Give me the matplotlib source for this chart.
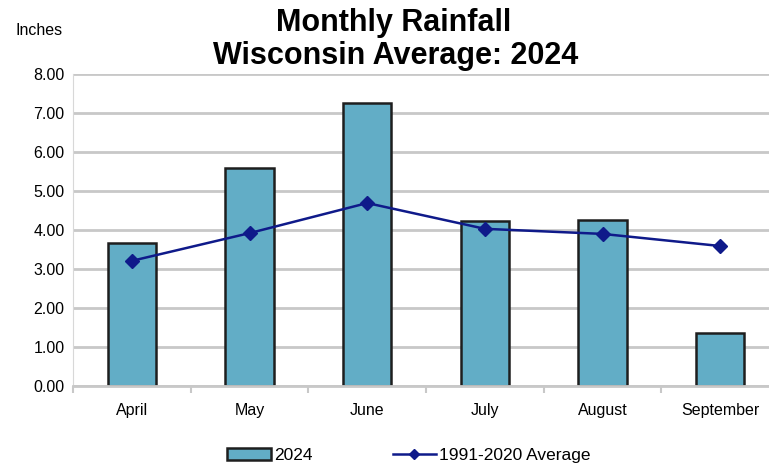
import matplotlib.pyplot as plt
import numpy as np

plt.rcParams['font.family'] = ['Liberation Sans', 'DejaVu Sans']

# データ
months = ['April', 'May', 'June', 'July', 'August', 'September']
rain_2024 = [3.67, 5.59, 7.25, 4.23, 4.26, 1.36]
avg_1991_2020 = [3.21, 3.92, 4.69, 4.03, 3.90, 3.59]
y_ticks = [0, 1, 2, 3, 4, 5, 6, 7, 8]

fig = plt.figure(figsize=(7.69, 4.67), dpi=100)
ax = fig.add_axes([0.095, 0.173, 0.905, 0.669])

x = np.arange(len(months))

# グリッド線
for t in y_ticks:
    ax.axhline(t, color='#c8c8c8', linewidth=2, zorder=0)

bars = ax.bar(x, rain_2024, width=0.41, color='#62adc6', edgecolor='#1e1e1e',
              linewidth=1.8, label='2024', zorder=2)
line, = ax.plot(x, avg_1991_2020, color='#0f1a8a', linewidth=1.8, marker='D',
                markersize=7, label='1991-2020 Average', zorder=3)

ax.set_xlim(-0.5, 5.5 - 10 / 117.5)
ax.set_ylim(0, 8)
ax.set_yticks(y_ticks)
ax.set_yticklabels([f'{t:.2f}' for t in y_ticks], fontsize=11.5)
ax.set_xticks(x)
ax.set_xticklabels(months, fontsize=11.5)
ax.tick_params(axis='x', length=0, pad=12)
ax.tick_params(axis='y', length=0, pad=6)

# カテゴリ境界の目盛り
ax.set_xticks(np.arange(-0.5, 5.5, 1.0), minor=True)
ax.tick_params(axis='x', which='minor', length=5, color='#c8c8c8', width=1.5)

for s in ['top', 'right']:
    ax.spines[s].set_visible(False)
ax.spines['left'].set_color('#d8d8d8')
ax.spines['bottom'].set_color('#c8c8c8')
ax.spines['bottom'].set_linewidth(2)

fig.text(0.512, 0.955 - 2 / 467, 'Monthly Rainfall', ha='center', va='center',
         fontsize=22, fontweight='bold')
fig.text(0.514, 0.885 - 2 / 467, 'Wisconsin Average: 2024', ha='center', va='center',
         fontsize=22, fontweight='bold')
fig.text(0.020, 0.935, 'Inches', ha='left', va='center', fontsize=11.5)

fig.legend(handles=[bars, line], loc='center', bbox_to_anchor=(0.532, 0.025),
           ncol=2, frameon=False, fontsize=12.5, columnspacing=4.6,
           handlelength=2.5, handletextpad=0.2, markerscale=0.75)

fig.savefig('out.png', dpi=100)
